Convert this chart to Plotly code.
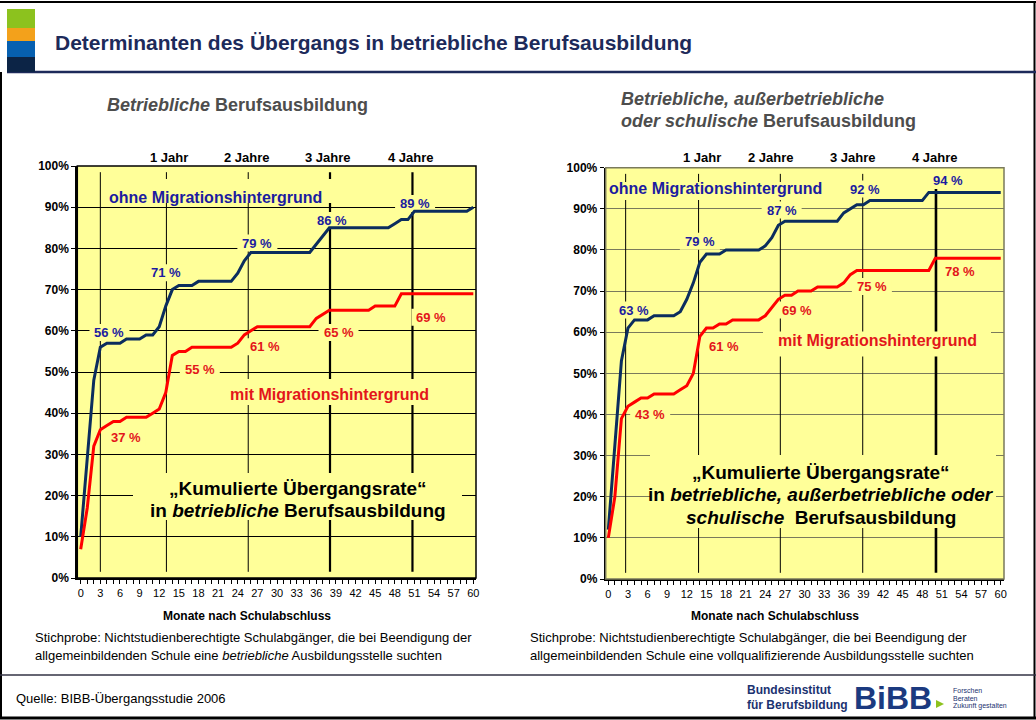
import plotly.graph_objects as go

W, H = 1036, 720

# ---------------- data ----------------
months = list(range(0, 61))
month_tick_labels = [str(m) if m % 3 == 0 else "" for m in months]

# Left: betriebliche Berufsausbildung
left_ohne = [10, 29, 48, 56, 57, 57, 57, 58, 58, 58, 59, 59, 61, 66, 70, 71, 71, 71, 72, 72,
             72, 72, 72, 72, 74, 77, 79, 79, 79, 79, 79, 79, 79, 79, 79, 79, 81, 83, 85, 85,
             85, 85, 85, 85, 85, 85, 85, 85, 86, 87, 87, 89, 89, 89, 89, 89, 89, 89, 89, 89, 90]
left_mit = [7, 17, 32, 36, 37, 38, 38, 39, 39, 39, 39, 40, 41, 45, 54, 55, 55, 56, 56, 56,
            56, 56, 56, 56, 57, 59, 60, 61, 61, 61, 61, 61, 61, 61, 61, 61, 63, 64, 65, 65,
            65, 65, 65, 65, 65, 66, 66, 66, 66, 69, 69, 69, 69, 69, 69, 69, 69, 69, 69, 69, 69]

# Right: betriebliche, außerbetriebliche oder schulische Berufsausbildung
right_ohne = [12, 32, 53, 61, 63, 63, 63, 64, 64, 64, 64, 65, 68, 72, 77, 79, 79, 79, 80, 80,
              80, 80, 80, 80, 81, 83, 86, 87, 87, 87, 87, 87, 87, 87, 87, 87, 89, 90, 91, 91,
              92, 92, 92, 92, 92, 92, 92, 92, 92, 94, 94, 94, 94, 94, 94, 94, 94, 94, 94, 94, 94]
right_mit = [10, 20, 39, 42, 43, 44, 44, 45, 45, 45, 45, 46, 47, 50, 59, 61, 61, 62, 62, 63,
             63, 63, 63, 63, 64, 66, 68, 69, 69, 70, 70, 70, 71, 71, 71, 71, 72, 74, 75, 75,
             75, 75, 75, 75, 75, 75, 75, 75, 75, 75, 78, 78, 78, 78, 78, 78, 78, 78, 78, 78, 78]

year_labels = ["1 Jahr", "2 Jahre", "3 Jahre", "4 Jahre"]
left_year_label_pos = [13.5, 25.4, 37.8, 50.4]
right_year_label_pos = [14.3, 24.9, 37.4, 49.9]
left_year_lines = [3, 13.1, 25.6, 38.1, 50.7]
left_year_line_w = [1, 1, 1, 2.2, 2.2]
right_year_lines = [2.65, 13.8, 26.3, 38.9, 50.1]
right_year_line_w = [1, 1, 1, 1, 2.6]

# value labels: (month, percent, text)
left_ohne_labels = [(4.4, 59.6, "56 %"), (13.1, 74.1, "71 %"), (27.0, 81.3, "79 %"),
                    (38.4, 86.8, "86 %"), (51.1, 90.9, "89 %")]
left_mit_labels = [(6.9, 34.0, "37 %"), (18.2, 50.7, "55 %"), (28.2, 56.1, "61 %"),
                   (39.4, 59.6, "65 %"), (53.6, 63.3, "69 %")]
right_ohne_labels = [(4.0, 65.4, "63 %"), (14.0, 82.1, "79 %"), (26.5, 89.7, "87 %"),
                     (39.2, 94.8, "92 %"), (51.9, 96.9, "94 %")]
right_mit_labels = [(6.4, 40.1, "43 %"), (17.7, 56.5, "61 %"), (28.8, 65.4, "69 %"),
                    (40.3, 71.1, "75 %"), (53.7, 74.8, "78 %")]

# ---------------- styles ----------------
FONT = "Arial, Liberation Sans, Helvetica, sans-serif"
YELLOW = "#FFFF99"
BLUE_LINE = "#0B2D5E"
RED_LINE = "#FF0000"
BLUE_TXT = "#1C1CA0"
RED_TXT = "#E3161B"
NAVY = "#1D2A5A"

L_X0, L_X1, L_Y0, L_Y1 = 77.3, 476, 578, 166      # left plot area (px)
R_X0, R_X1, R_Y0, R_Y1 = 605.7, 1004, 579, 167.7  # right plot area (px)
L_RANGE = [-0.52, 60.41]
R_RANGE = [-0.4, 60.5]


def px(x):
    return x / W


def py(y):
    return 1 - y / H


def from_px(x, y, left=True):
    if left:
        m = L_RANGE[0] + (x - L_X0) / (L_X1 - L_X0) * (L_RANGE[1] - L_RANGE[0])
        p = (L_Y0 - y) / (L_Y0 - L_Y1) * 100
    else:
        m = R_RANGE[0] + (x - R_X0) / (R_X1 - R_X0) * (R_RANGE[1] - R_RANGE[0])
        p = (R_Y0 - y) / (R_Y0 - R_Y1) * 100
    return m, p


def to_px(m, p, left=True):
    if left:
        x = L_X0 + (m - L_RANGE[0]) / (L_RANGE[1] - L_RANGE[0]) * (L_X1 - L_X0)
        y = L_Y0 - p / 100 * (L_Y0 - L_Y1)
    else:
        x = R_X0 + (m - R_RANGE[0]) / (R_RANGE[1] - R_RANGE[0]) * (R_X1 - R_X0)
        y = R_Y0 - p / 100 * (R_Y0 - R_Y1)
    return x, y


fig = go.Figure()

fig.add_trace(go.Scatter(x=months, y=left_ohne, mode="lines", line=dict(color=BLUE_LINE, width=3),
                         xaxis="x", yaxis="y", showlegend=False, hoverinfo="skip"))
fig.add_trace(go.Scatter(x=months, y=left_mit, mode="lines", line=dict(color=RED_LINE, width=3),
                         xaxis="x", yaxis="y", showlegend=False, hoverinfo="skip"))
fig.add_trace(go.Scatter(x=months, y=right_ohne, mode="lines", line=dict(color=BLUE_LINE, width=3),
                         xaxis="x2", yaxis="y2", showlegend=False, hoverinfo="skip"))
fig.add_trace(go.Scatter(x=months, y=right_mit, mode="lines", line=dict(color=RED_LINE, width=3),
                         xaxis="x2", yaxis="y2", showlegend=False, hoverinfo="skip"))


def xaxis_def(domain, rng, anchor):
    return dict(domain=domain, range=rng, anchor=anchor, tickmode="array", tickvals=months,
                ticktext=month_tick_labels, ticks="outside", ticklen=4, tickwidth=1,
                tickcolor="black", showline=True, linecolor="black", linewidth=2,
                showgrid=False, zeroline=False, tickangle=0, automargin=False,
                tickfont=dict(family=FONT, size=11, color="black"), fixedrange=True)


def yaxis_def(domain, anchor, gridcolor):
    return dict(domain=domain, range=[0, 100], anchor=anchor, dtick=10, ticksuffix="%",
                ticks="outside", ticklen=4, tickcolor="black", showline=True,
                linecolor="black", linewidth=2, showgrid=True, gridcolor=gridcolor,
                gridwidth=1, zeroline=False, automargin=False,
                tickfont=dict(family=FONT, size=12, color="black", weight="bold"),
                fixedrange=True)


fig.update_layout(
    width=W, height=H, margin=dict(l=0, r=0, t=0, b=0, pad=0, autoexpand=False),
    paper_bgcolor="white", plot_bgcolor=YELLOW,
    xaxis=xaxis_def([px(L_X0), px(L_X1)], L_RANGE, "y"),
    yaxis=yaxis_def([py(L_Y0), py(L_Y1)], "x", "black"),
    xaxis2=xaxis_def([px(R_X0), px(R_X1)], R_RANGE, "y2"),
    yaxis2=yaxis_def([py(R_Y0), py(R_Y1)], "x2", "#7A7A5C"),
    font=dict(family=FONT),
)

shapes = []
# year marker lines (drawn between gridlines and traces)
for xv, lw in zip(left_year_lines, left_year_line_w):
    shapes.append(dict(type="line", xref="x", yref="y", x0=xv, x1=xv, y0=1.5, y1=98.5,
                       line=dict(color="black", width=lw), layer="between"))
for xv, lw in zip(right_year_lines, right_year_line_w):
    shapes.append(dict(type="line", xref="x2", yref="y2", x0=xv, x1=xv, y0=1.5, y1=98.5,
                       line=dict(color="black", width=lw), layer="between"))


def mask(cx, cy, w, h, left=True):
    ma, pa = from_px(cx - w / 2, cy + h / 2, left)
    mb, pb = from_px(cx + w / 2, cy - h / 2, left)
    xr, yr = ("x", "y") if left else ("x2", "y2")
    shapes.append(dict(type="rect", xref=xr, yref=yr, x0=ma, x1=mb, y0=pa, y1=pb,
                       fillcolor=YELLOW, line=dict(width=0), layer="between"))


# yellow text boxes hiding grid/year lines behind the labels (not the data lines)
for lst, left in [(left_ohne_labels, True), (left_mit_labels, True),
                  (right_ohne_labels, False), (right_mit_labels, False)]:
    for (m, p, t) in lst:
        cx, cy = to_px(m, p, left)
        mask(cx, cy, 40, 17, left)
mask(221, 191, 232, 24, True)      # ohne (left)
mask(329, 392, 214, 26, True)      # mit (left)
mask(716, 191, 230, 18, False)     # ohne (right)
mask(877, 344, 228, 25, False)     # mit (right)
mask(297.5, 496.5, 329, 47, True)  # caption left
mask(823, 491.5, 346, 73, False)   # caption right

# plot area borders
shapes.append(dict(type="rect", xref="x domain", yref="y domain", x0=0, x1=1, y0=0, y1=1,
                   line=dict(color="black", width=1.5), layer="above"))
shapes.append(dict(type="rect", xref="x2 domain", yref="y2 domain", x0=0, x1=1, y0=0, y1=1,
                   line=dict(color="#7A7A5C", width=1.5), layer="above"))

# page frame
shapes.append(dict(type="line", xref="paper", yref="paper", x0=0, x1=1, y0=py(2), y1=py(2),
                   line=dict(color="black", width=2)))
shapes.append(dict(type="line", xref="paper", yref="paper", x0=px(1), x1=px(1), y0=py(72), y1=py(718),
                   line=dict(color="black", width=2)))
shapes.append(dict(type="line", xref="paper", yref="paper", x0=px(1034.5), x1=px(1034.5), y0=py(2), y1=py(718),
                   line=dict(color="black", width=2)))
shapes.append(dict(type="line", xref="paper", yref="paper", x0=0, x1=1, y0=py(718), y1=py(718),
                   line=dict(color="black", width=3)))
shapes.append(dict(type="line", xref="paper", yref="paper", x0=0, x1=1, y0=py(675), y1=py(675),
                   line=dict(color="#333344", width=1.5)))
# header line
shapes.append(dict(type="line", xref="paper", yref="paper", x0=px(7), x1=1, y0=py(72), y1=py(72),
                   line=dict(color=NAVY, width=2.5)))
# header colour blocks
for (y0, y1, col) in [(9, 28, "#8CC21E"), (28, 41, "#F3A11B"), (41, 57, "#0760B0"), (57, 72, "#0C2446")]:
    shapes.append(dict(type="rect", xref="paper", yref="paper", x0=px(7), x1=px(35),
                       y0=py(y1), y1=py(y0), fillcolor=col, line=dict(width=0)))
# BIBB arrow
shapes.append(dict(type="path", xref="paper", yref="paper",
                   path=f"M {px(936)} {py(700)} L {px(944)} {py(704)} L {px(936)} {py(708)} Z",
                   fillcolor="#8CC21E", line=dict(width=0)))
fig.update_layout(shapes=shapes)

ann = []


def text(x, y, t, size, color="black", bold=False, xanchor="center", xref="paper",
         yref="paper", family=FONT):
    ann.append(dict(x=x, y=y, xref=xref, yref=yref, text=t, showarrow=False, xanchor=xanchor,
                    yanchor="middle", font=dict(family=family, size=size, color=color,
                                                weight="bold" if bold else "normal")))


# title
text(px(53), py(42), "Determinanten des Übergangs in betriebliche Berufsausbildung", 21, NAVY,
     bold=True, xanchor="left")
# subtitles
text(px(237), py(105), "<i>Betriebliche</i> Berufsausbildung", 18, "#4D4D4D", bold=True)
text(px(619), py(99), "<i>Betriebliche, außerbetriebliche</i>", 18, "#4D4D4D", bold=True, xanchor="left")
text(px(619), py(121), "<i>oder schulische</i> Berufsausbildung", 18, "#4D4D4D", bold=True, xanchor="left")

# year labels
for lab, xv in zip(year_labels, left_year_label_pos):
    text(xv, py(157), lab, 13, "black", bold=True, xref="x")
for lab, xv in zip(year_labels, right_year_label_pos):
    text(xv, py(157), lab, 13, "black", bold=True, xref="x2")

# axis titles
text(px(247), py(616), "Monate nach Schulabschluss", 12, "black", bold=True)
text(px(775), py(616), "Monate nach Schulabschluss", 12, "black", bold=True)

# series names
text(px(215.5), py(197), "ohne Migrationshintergrund", 16, BLUE_TXT, bold=True)
text(px(329), py(394), "mit Migrationshintergrund", 16, RED_TXT, bold=True)
text(px(715), py(189), "ohne Migrationshintergrund", 16, BLUE_TXT, bold=True)
text(px(877.5), py(340), "mit Migrationshintergrund", 16, RED_TXT, bold=True)

# value labels
for (m, p, t) in left_ohne_labels:
    text(m, p, t, 13, BLUE_TXT, bold=True, xref="x", yref="y")
for (m, p, t) in left_mit_labels:
    text(m, p, t, 13, RED_TXT, bold=True, xref="x", yref="y")
for (m, p, t) in right_ohne_labels:
    text(m, p, t, 13, BLUE_TXT, bold=True, xref="x2", yref="y2")
for (m, p, t) in right_mit_labels:
    text(m, p, t, 13, RED_TXT, bold=True, xref="x2", yref="y2")

# big in-chart captions
text(px(297.5), py(488), "„Kumulierte Übergangsrate“", 19, "black", bold=True)
text(px(297.5), py(510), "in <i>betriebliche</i> Berufsausbildung", 19, "black", bold=True)
text(px(821), py(472), "„Kumulierte Übergangsrate“", 19, "black", bold=True)
text(px(821), py(494), "in <i>betriebliche, außerbetriebliche oder</i>", 19, "black", bold=True)
text(px(821), py(517), "<i>schulische</i>  Berufsausbildung", 19, "black", bold=True)

# sample notes
text(px(33), py(637), "Stichprobe: Nichtstudienberechtigte Schulabgänger, die bei Beendigung der", 13,
     "black", xanchor="left")
text(px(33), py(655), "allgemeinbildenden Schule eine <i>betriebliche</i> Ausbildungsstelle suchten", 13,
     "black", xanchor="left")
text(px(528), py(637), "Stichprobe: Nichtstudienberechtigte Schulabgänger, die bei Beendigung der", 13,
     "black", xanchor="left")
text(px(528), py(655), "allgemeinbildenden Schule eine vollqualifizierende Ausbildungsstelle suchten", 13,
     "black", xanchor="left")

# footer
text(px(14), py(698), "Quelle: BIBB-Übergangsstudie 2006", 13, "black", xanchor="left")
text(px(745), py(690), "Bundesinstitut", 12, "#1B3270", bold=True, xanchor="left")
text(px(745), py(705), "für Berufsbildung", 12, "#1B3270", bold=True, xanchor="left")
text(px(852), py(698), "BiBB", 32, "#1B3A80", bold=True, xanchor="left")
text(px(951), py(690), "Forschen", 7, "#1B3270", xanchor="left")
text(px(951), py(698), "Beraten", 7, "#1B3270", xanchor="left")
text(px(951), py(706), "Zukunft gestalten", 7, "#1B3270", xanchor="left")

fig.update_layout(annotations=ann)

# remove the default page margin right away (independent of the plot promise)
PAGE_CSS = ("});\ndocument.body.style.margin='0';"
            "document.body.style.overflow='hidden';\n(function(){")
fig.write_html("out.html", config={"displayModeBar": False}, post_script=PAGE_CSS)
